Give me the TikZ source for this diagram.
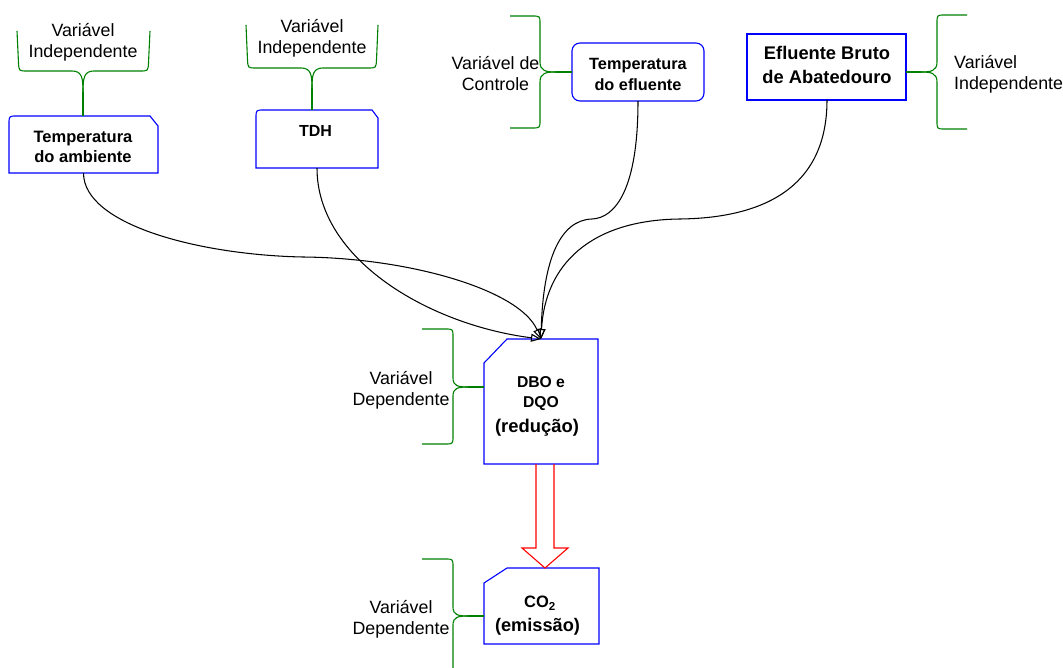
\documentclass[tikz,border=0pt]{standalone}
\usepackage{fontspec}
\setmainfont{Liberation Sans}
\usetikzlibrary{calc,arrows.meta}
\definecolor{brgreen}{RGB}{0,128,0}
\definecolor{bxblue}{RGB}{0,0,255}
\definecolor{arred}{RGB}{255,0,0}
\begin{document}
\begin{tikzpicture}[x=1pt,y=-1pt,
  frame/.style={inner sep=0pt, outer sep=0pt},
  lbl/.style={font=\fontsize{17.8}{21}\selectfont, align=center, inner sep=0pt},
  btx/.style={font=\bfseries\fontsize{16.5}{20}\selectfont, align=center, inner sep=0pt},
  bline/.style={draw=bxblue, line width=1.1pt},
  brace/.style={draw=brgreen, line width=1.1pt},
  stub/.style={draw=brgreen, line width=1.8pt},
  conn/.style={draw=black, line width=1.05pt, -{Triangle[open,length=10pt,width=8pt]}},
  redarr/.style={draw=arred, line width=1.1pt, line join=miter}
]
\useasboundingbox (0,0) rectangle (1063,668);

% ---------- boxes ----------
\node[frame, minimum width=149pt, minimum height=57pt] (amb) at (83.5,144.5) {};
\node[frame, minimum width=122pt, minimum height=58pt] (tdh) at (317,139) {};
\node[frame, draw=bxblue, line width=1.1pt, rounded corners=8pt, minimum width=132pt, minimum height=58pt] (tef) at (638,72) {};
\node[frame, draw=bxblue, line width=1.1pt, minimum width=159pt, minimum height=66pt] (efl) at (826.5,67) {};
\node[frame, minimum width=114pt, minimum height=125pt] (dbo) at (541,401.5) {};
\node[frame, minimum width=115pt, minimum height=76pt] (co2) at (541.5,606) {};

\draw[bline] (amb.south west) -- ($(amb.north west)+(0,8)$) .. controls (amb.north west) .. ($(amb.north west)+(8,0)$)
  -- ($(amb.north east)+(-8,0)$) -- ($(amb.north east)+(0,10)$) -- (amb.south east) -- cycle;
\draw[bline] (tdh.south west) -- ($(tdh.north west)+(0,8)$) .. controls (tdh.north west) .. ($(tdh.north west)+(8,0)$)
  -- ($(tdh.north east)+(-6,0)$) -- ($(tdh.north east)+(0,8)$) -- (tdh.south east) -- cycle;
\draw[bline] (dbo.south west) -- ($(dbo.north west)+(0,24)$) -- ($(dbo.north west)+(23,0)$)
  -- (dbo.north east) -- (dbo.south east) -- cycle;
\draw[bline] (co2.south west) -- ($(co2.north west)+(0,15)$) -- ($(co2.north west)+(23,0)$)
  -- (co2.north east) -- (co2.south east) -- cycle;

% ---------- box texts ----------
\node[btx] (ambt) at (83,146.5) {Temperatura\\do ambiente};
\node[btx, font=\bfseries\fontsize{16}{20}\selectfont] (tdht) at (315.5,131) {TDH};
\node[btx, font=\bfseries\fontsize{16.3}{20.5}\selectfont] (teft) at (638,74.5) {Temperatura\\do efluente};
\node[btx, font=\bfseries\fontsize{18.3}{23.3}\selectfont] (eflt) at (827,65) {Efluente Bruto\\de Abatedouro};
\node[btx, font=\bfseries\fontsize{15.7}{20}\selectfont] (dbot) at (541,393.2) {DBO e\\DQO};
\node[btx, font=\bfseries\fontsize{18.4}{22}\selectfont] (dbor) at (537,428) {(redução)};
\node[btx, font=\bfseries\fontsize{16.5}{20}\selectfont] (co2t) at (540,603.5) {CO\textsubscript{2}};
\node[btx, font=\bfseries\fontsize{18.2}{22}\selectfont] (co2e) at (537.5,627) {(emissão)};

% ---------- labels ----------
\node[lbl] (la) at (83,42) {Variável\\Independente};
\node[lbl] (lb) at (312,38) {Variável\\Independente};
\node[lbl] (lc) at (495.5,74) {Variável de\\Controle};
\node[lbl, align=left, anchor=west] (ld) at (954,74.6) {Variável\\Independente};
\node[lbl] (le) at (401,390) {Variável\\Dependente};
\node[lbl] (lf) at (401,619) {Variável\\Dependente};

% ---------- braces ----------
\coordinate (bA) at (83,92);
\draw[brace] (17,31) -- (18.5,63) .. controls (19,71) .. (27,71) -- (72,71) .. controls (82,71) and (83,78) .. (bA);
\draw[brace] (150,31) -- (148.5,63) .. controls (148,71) .. (140,71) -- (94,71) .. controls (84,71) and (83,78) .. (bA);
\draw[brace] (bA) -- (bA |- amb.north);

\coordinate (bB) at (312,88);
\draw[brace] (246,25) -- (247.5,60) .. controls (248,68) .. (256,68) -- (301,68) .. controls (311,68) and (312,75) .. (bB);
\draw[brace] (378,25) -- (376.5,60) .. controls (376,68) .. (368,68) -- (323,68) .. controls (313,68) and (312,75) .. (bB);
\draw[brace] (bB) -- (bB |- tdh.north);

\coordinate (bC) at (556,72);
\draw[brace] (510,16) -- (532,16) .. controls (540,16) .. (540,24) -- (540,62) .. controls (540,71) and (546,72) .. (bC);
\draw[brace] (510,128) -- (532,128) .. controls (540,128) .. (540,120) -- (540,82) .. controls (540,73) and (546,72) .. (bC);
\draw[stub] (bC) -- (tef.west);

\coordinate (bD) at (921,72);
\draw[brace] (967,15) -- (945,15) .. controls (937,15) .. (937,23) -- (937,62) .. controls (937,71) and (931,72) .. (bD);
\draw[brace] (967,129) -- (945,129) .. controls (937,129) .. (937,121) -- (937,82) .. controls (937,73) and (931,72) .. (bD);
\draw[stub] (bD) -- (bD -| efl.east);

\coordinate (bE) at (468,387);
\draw[brace] (422,329) -- (445,329) .. controls (453,329) .. (453,337) -- (453,378) .. controls (453,386) and (458,387) .. (bE);
\draw[brace] (422,444) -- (445,444) .. controls (453,444) .. (453,436) -- (453,396) .. controls (453,388) and (458,387) .. (bE);
\draw[stub] (bE) -- (bE -| dbo.west);

\coordinate (bF) at (468,616);
\draw[brace] (422,559) -- (445,559) .. controls (453,559) .. (453,567) -- (453,607) .. controls (453,615) and (458,616) .. (bF);
\draw[brace] (453,668) -- (453,625) .. controls (453,617) and (458,616) .. (bF);
\draw[stub] (bF) -- (bF -| co2.west);

% ---------- connectors ----------
\draw[conn] (amb.south) .. controls +(0,52) and (200,255) .. (303,257) .. controls (410,258) and (520,290) .. (dbo.north);
\draw[conn] (tdh.south) .. controls +(0,92) and (430,325) .. (dbo.north);
\draw[conn] (tef.south) .. controls +(0,89) and (615,218) .. (592,219) .. controls (560,220) and (543,260) .. (dbo.north);
\draw[conn] (efl.south -| 827,0) .. controls (827,190) and (760,218) .. (680,219) .. controls (590,220) and (545,265) .. (dbo.north);

% ---------- red hollow arrow ----------
\coordinate (ra) at ($(dbo.south)+(4,0)$);
\coordinate (rb) at ($(co2.north)+(3.5,0)$);
\draw[redarr] ($(ra)+(-9,0)$) -- ($(rb)+(-9,-20)$) -- ($(rb)+(-23,-20)$) -- (rb)
  -- ($(rb)+(23,-20)$) -- ($(rb)+(9,-20)$) -- ($(ra)+(9,0)$);
\end{tikzpicture}
\end{document}
